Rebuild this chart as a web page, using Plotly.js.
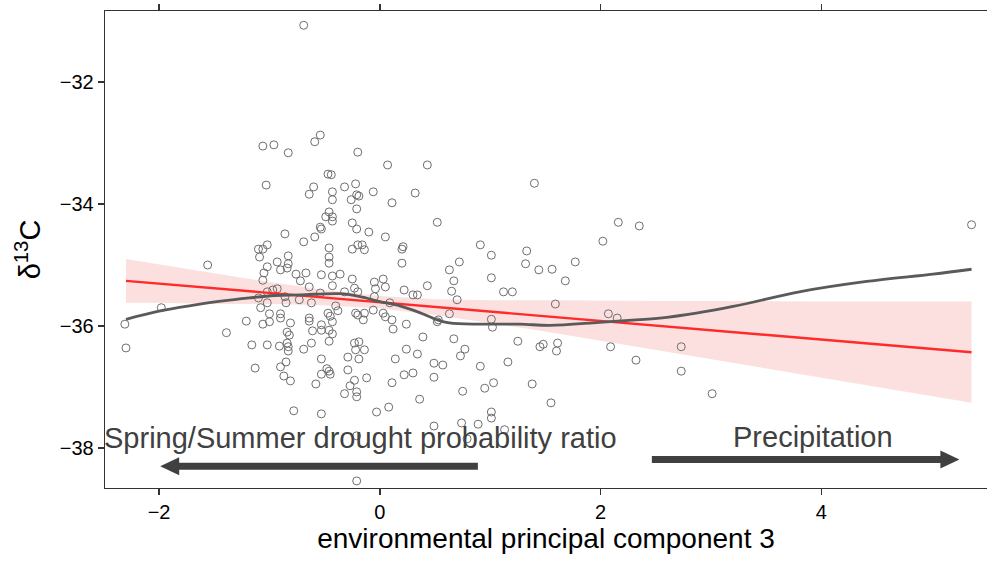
<!DOCTYPE html>
<html>
<head>
<meta charset="utf-8">
<script src="https://cdn.plot.ly/plotly-3.0.1.min.js"></script>
<style>html,body{margin:0;padding:0;background:#fff;}#chart{width:987px;height:562px;}</style>
</head>
<body>
<div id="chart"></div>
<script>
// ---- observations: environmental PC3 vs d13C ----
const pcX = [
-2.31,-2.30,-1.98,-1.56,-1.39,-1.21,-0.69,-0.54,-1.06,-0.96,
-0.59,-0.83,-0.20,0.07,0.43,-0.47,-0.44,-1.03,-0.60,-0.64,
-0.43,-0.32,-0.22,-0.06,-0.21,-0.19,-0.43,-0.26,0.11,0.32,
-0.21,-0.46,-0.49,-0.43,-0.43,-0.54,-0.53,-0.25,-0.21,-0.10,
0.52,1.40,2.16,2.35,2.02,5.36,-0.86,-0.59,-0.69,0.05,
-1.02,-1.10,-1.06,-0.46,-0.25,-0.20,-0.16,-0.14,0.21,0.20,
0.91,1.33,-1.09,-0.83,-0.46,-0.46,-0.93,-0.83,-0.90,-0.84,
-1.02,-1.05,-0.76,-0.67,-0.53,-0.43,-0.36,-0.25,-0.05,-1.06,
0.20,1.01,1.32,0.72,0.63,1.44,1.56,1.77,0.03,0.05,
-0.04,-0.72,-0.64,-0.54,-0.43,-0.32,-0.23,-0.20,-0.97,-0.93,
-1.02,-1.10,-0.86,-0.73,-0.05,0.22,0.30,0.34,0.43,0.67,
1.01,0.65,0.70,1.12,1.20,1.68,-0.62,-0.85,-1.02,-1.08,
-0.40,-0.38,-1.00,-0.90,-0.90,-0.64,-0.64,-0.47,-0.45,-0.22,
-0.20,-0.14,-0.15,-0.06,-1.06,-1.00,-0.81,-0.43,-0.53,-0.53,
-0.61,-0.46,-0.43,-0.84,-0.82,-0.46,-0.62,-0.84,-0.83,-0.83,
-0.91,-1.02,-1.16,-0.69,-0.23,-0.19,-0.22,-0.14,0.03,0.05,
0.11,0.12,0.24,0.09,0.39,0.53,0.52,0.63,1.01,1.02,
0.67,0.77,1.59,2.07,2.15,1.25,1.45,1.48,1.61,1.60,
2.09,2.73,0.24,-0.29,-0.19,-0.53,-0.85,-0.90,-1.13,-0.48,
-0.46,-0.53,-0.45,-0.29,-0.87,-0.81,-0.58,-0.23,-0.12,-0.27,
-0.32,-0.21,-0.21,0.14,0.11,0.73,0.34,0.49,0.57,0.22,
0.30,0.49,0.36,0.75,0.95,1.03,0.91,1.16,1.38,2.32,
2.73,3.01,1.55,-0.78,-0.53,-0.03,0.08,1.01,1.01,0.49,
0.74,0.89,-0.21,0.79,1.13,-0.21
];
const d13C = [
-35.97,-36.36,-35.70,-35.00,-36.11,-35.92,-31.07,-32.87,-33.05,-33.03,
-32.98,-33.16,-33.15,-33.36,-33.36,-33.51,-33.52,-33.69,-33.72,-33.84,
-33.80,-33.72,-33.67,-33.80,-33.85,-33.87,-33.93,-33.93,-33.98,-33.82,
-34.08,-34.13,-34.21,-34.21,-34.28,-34.38,-34.41,-34.31,-34.41,-34.46,
-34.30,-33.66,-34.30,-34.36,-34.61,-34.34,-34.49,-34.54,-34.62,-34.54,
-34.67,-34.74,-34.74,-34.72,-34.74,-34.67,-34.67,-34.75,-34.70,-34.74,
-34.67,-34.77,-34.87,-34.85,-34.87,-34.97,-34.95,-34.98,-35.08,-35.05,
-35.03,-35.13,-35.15,-35.13,-35.16,-35.18,-35.15,-35.23,-35.28,-35.25,
-34.97,-34.84,-34.98,-34.95,-35.08,-35.08,-35.07,-34.95,-35.23,-35.36,
-35.39,-35.26,-35.36,-35.46,-35.34,-35.44,-35.38,-35.44,-35.41,-35.39,
-35.44,-35.54,-35.52,-35.57,-35.52,-35.41,-35.49,-35.49,-35.34,-35.26,
-35.21,-35.43,-35.57,-35.44,-35.44,-35.26,-35.62,-35.62,-35.62,-35.70,
-35.67,-35.75,-35.80,-35.80,-35.87,-35.87,-35.92,-35.79,-35.84,-35.79,
-35.82,-35.79,-35.90,-35.74,-35.97,-35.93,-35.95,-35.93,-35.98,-36.07,
-36.08,-36.07,-36.13,-36.10,-36.15,-36.25,-36.28,-36.28,-36.34,-36.41,
-36.33,-36.31,-36.31,-36.38,-36.28,-36.26,-36.39,-36.39,-35.79,-35.85,
-35.90,-36.05,-35.97,-35.62,-36.18,-35.90,-35.93,-35.80,-35.89,-36.02,
-36.21,-36.38,-35.64,-35.80,-35.87,-36.25,-36.34,-36.30,-36.28,-36.41,
-36.34,-36.34,-36.38,-36.51,-36.54,-36.54,-36.59,-36.67,-36.69,-36.70,
-36.74,-36.79,-36.79,-36.72,-36.82,-36.90,-36.95,-36.89,-36.85,-36.98,
-37.11,-37.08,-37.16,-36.54,-36.93,-36.49,-36.46,-36.61,-36.64,-36.80,
-36.77,-36.84,-37.20,-37.07,-37.02,-36.93,-36.66,-36.59,-36.95,-36.56,
-36.74,-37.11,-37.26,-37.39,-37.44,-37.41,-37.33,-37.41,-37.51,-37.64,
-37.59,-37.61,-37.80,-37.85,-37.70,-38.54
];

// ---- linear fit (red) with confidence band ----
const fitX = [-2.30, 5.36];
const fitY = [-35.26, -36.43];
const bandX =     [-2.30, -2.00, -1.50, -1.00, -0.50, 0.00, 0.50, 1.00, 1.50, 2.00, 2.50, 3.00, 3.50, 4.00, 4.50, 5.36];
const bandUpper = [-34.90,-34.99,-35.13,-35.28,-35.41,-35.51,-35.56,-35.58,-35.58,-35.59,-35.59,-35.59,-35.60,-35.60,-35.60,-35.60];
const bandLower = [-35.62,-35.62,-35.64,-35.64,-35.66,-35.71,-35.82,-35.95,-36.09,-36.24,-36.39,-36.54,-36.70,-36.85,-37.00,-37.26];

// ---- smooth (loess, dark grey) ----
const smoothX = [-2.30,-1.98,-1.63,-1.18,-0.95,-0.72,-0.36,-0.18,0.00,0.18,0.36,0.52,0.63,0.91,1.27,1.54,1.99,2.32,2.60,3.20,3.80,4.41,5.01,5.36];
const smoothY = [-35.89,-35.75,-35.64,-35.54,-35.50,-35.49,-35.47,-35.52,-35.60,-35.67,-35.78,-35.90,-35.95,-35.97,-35.97,-35.99,-35.94,-35.90,-35.86,-35.68,-35.44,-35.27,-35.15,-35.07];

// ---- axis ticks and labels ----
const xTicks = [-2, 0, 2, 4];
const xTickText = ['\u22122', '0', '2', '4'];
const yTicks = [-38, -36, -34, -32];
const yTickText = ['\u221238', '\u221236', '\u221234', '\u221232'];
const leftLabel = 'Spring/Summer drought probability ratio';
const rightLabel = 'Precipitation';

// arrows under the labels: [tail x, tip x, y]
const leftArrow = [0.888, -1.99, -38.30];
const rightArrow = [2.464, 5.25, -38.19];

const FONT = 'Liberation Sans, Arial, Helvetica, sans-serif';
const ARROW = '#404040';

function arrowShapes(a) {
  const dir = a[1] < a[0] ? -1 : 1;          // pointing left or right
  const headLen = 19, headHalf = 9;          // pixels
  const shaftEnd = a[1] - dir * (headLen - 2) / 110.4;
  return [
    {type: 'line', xref: 'x', yref: 'y', x0: a[0], x1: shaftEnd, y0: a[2], y1: a[2],
     line: {color: ARROW, width: 7}},
    {type: 'path', xref: 'x', yref: 'y', xsizemode: 'pixel', ysizemode: 'pixel',
     xanchor: a[1], yanchor: a[2],
     path: 'M0,0 L' + (-dir * headLen) + ',' + headHalf + ' L' + (-dir * headLen) + ',' + (-headHalf) + ' Z',
     fillcolor: ARROW, line: {width: 0}}
  ];
}

const traces = [
  {
    x: bandX.concat(bandX.slice().reverse()),
    y: bandUpper.concat(bandLower.slice().reverse()),
    type: 'scatter', mode: 'lines', fill: 'toself',
    fillcolor: 'rgba(240,110,110,0.22)', line: {width: 0},
    hoverinfo: 'skip', showlegend: false
  },
  {
    x: pcX, y: d13C, type: 'scatter', mode: 'markers',
    marker: {symbol: 'circle-open', size: 8, color: '#6e6e6e', line: {width: 1, color: '#6e6e6e'}},
    showlegend: false
  },
  {
    x: fitX, y: fitY, type: 'scatter', mode: 'lines',
    line: {color: '#ff2a2a', width: 2.4}, showlegend: false
  },
  {
    x: smoothX, y: smoothY, type: 'scatter', mode: 'lines',
    line: {color: '#5a5a5a', width: 2.8, shape: 'spline', smoothing: 1}, showlegend: false
  }
];

const layout = {
  width: 987, height: 562,
  margin: {l: 105, r: 0, t: 11, b: 74},
  paper_bgcolor: '#ffffff', plot_bgcolor: '#ffffff',
  font: {family: FONT, color: '#000'},
  showlegend: false,
  xaxis: {
    range: [-2.49, 5.50], showgrid: false, zeroline: false,
    showline: true, linecolor: '#333', linewidth: 1.3, mirror: 'ticks',
    ticks: 'outside', ticklen: 6, tickwidth: 1.3, tickcolor: '#333',
    tickvals: xTicks, ticktext: xTickText,
    tickfont: {family: FONT, size: 20, color: '#000'},
    title: {text: 'environmental principal component 3', font: {family: FONT, size: 28, color: '#000'}, standoff: 6}
  },
  yaxis: {
    range: [-38.656, -30.836], showgrid: false, zeroline: false,
    showline: true, linecolor: '#333', linewidth: 1.3,
    ticks: 'outside', ticklen: 6, tickwidth: 1.3, tickcolor: '#333',
    tickvals: yTicks, ticktext: yTickText,
    tickfont: {family: FONT, size: 20, color: '#000'},
    title: {text: '\u03b4<sup>13</sup>C', font: {family: FONT, size: 29, color: '#000'}, standoff: 10}
  },
  shapes: arrowShapes(leftArrow).concat(arrowShapes(rightArrow)),
  annotations: [
    {x: -0.18, y: -37.84, xref: 'x', yref: 'y', text: leftLabel, showarrow: false,
     xanchor: 'center', yanchor: 'middle', font: {family: FONT, size: 29, color: '#404040'}},
    {x: 3.92, y: -37.82, xref: 'x', yref: 'y', text: rightLabel, showarrow: false,
     xanchor: 'center', yanchor: 'middle', font: {family: FONT, size: 29, color: '#404040'}}
  ]
};

Plotly.newPlot('chart', traces, layout, {displayModeBar: false, staticPlot: true});
</script>
</body>
</html>
